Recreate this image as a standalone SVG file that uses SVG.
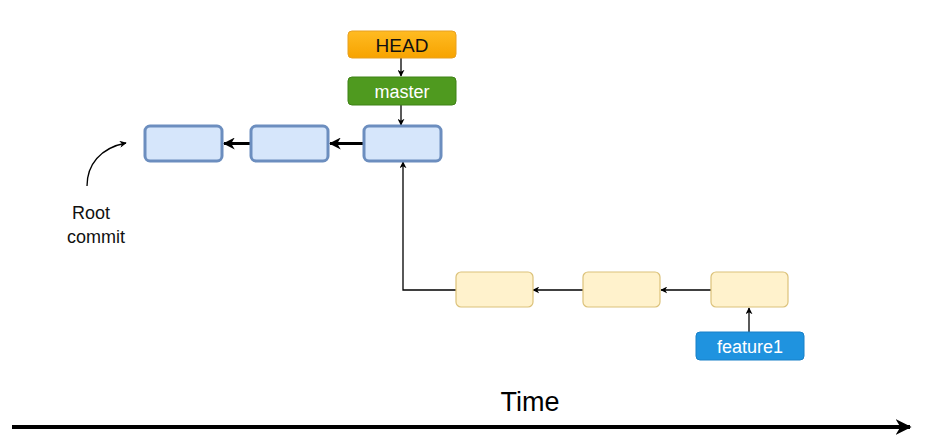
<svg xmlns="http://www.w3.org/2000/svg" width="926" height="446" viewBox="0 0 926 446">
<defs>
<linearGradient id="og" x1="0" y1="0" x2="0" y2="1"><stop offset="0" stop-color="#ffbb22"/><stop offset="1" stop-color="#f7a300"/></linearGradient>
<marker id="ah" viewBox="0 0 10 10" refX="9" refY="5" markerWidth="7" markerHeight="7" markerUnits="userSpaceOnUse" orient="auto"><path d="M0,0 L10,5 L0,10 L3,5 Z" fill="#000"/></marker>
<marker id="ahb" viewBox="0 0 10 10" refX="9" refY="5" markerWidth="12" markerHeight="12" markerUnits="userSpaceOnUse" orient="auto"><path d="M0,0 L10,5 L0,10 L3,5 Z" fill="#000"/></marker>
<marker id="aht" viewBox="0 0 10 10" refX="9" refY="5" markerWidth="16" markerHeight="16" markerUnits="userSpaceOnUse" orient="auto"><path d="M0,0 L10,5 L0,10 L3,5 Z" fill="#000"/></marker>
</defs>
<style>
.c{fill:#d6e6fb;stroke:#6c8ebf;stroke-width:3}
.y{fill:#fff2cc;stroke:#dcc27a;stroke-width:1.2}
.t{font-family:"Liberation Sans",Arial,sans-serif;text-anchor:middle}
.l{fill:none;stroke:#000;stroke-width:1.3}
</style>
<rect width="926" height="446" fill="#fff"/>
<g id="connectors">
<path class="l" d="M401,58 V76" marker-end="url(#ah)"/>
<path class="l" d="M401,105 V125" marker-end="url(#ah)"/>
<path fill="none" stroke="#000" stroke-width="3" d="M250,143.5 H224" marker-end="url(#ahb)"/>
<path fill="none" stroke="#000" stroke-width="3" d="M363,143.5 H330" marker-end="url(#ahb)"/>
<path class="l" d="M456,290 H403 V162" marker-end="url(#ah)"/>
<path class="l" d="M583,290 H533" marker-end="url(#ah)"/>
<path class="l" d="M711,290 H661" marker-end="url(#ah)"/>
<path class="l" d="M749,332 V308" marker-end="url(#ah)"/>
<path class="l" d="M87,186 C87,165 100,148 126,143" marker-end="url(#ah)"/>
<path fill="none" stroke="#000" stroke-width="4" d="M12,427 H910" marker-end="url(#aht)"/>
</g>
<g id="head"><rect x="348" y="31" width="108" height="27" rx="4" fill="url(#og)" stroke="#e8a020" stroke-width="1"/><text class="t" x="402" y="52" font-size="19" fill="#111">HEAD</text></g>
<g id="master"><rect x="348" y="77" width="108" height="28" rx="4" fill="#4f9a1f" stroke="#3f8216" stroke-width="1"/><text class="t" x="402" y="98" font-size="18" fill="#fff">master</text></g>
<g id="c1"><rect class="c" x="145" y="126" width="77" height="35" rx="5"/></g>
<g id="c2"><rect class="c" x="251" y="126" width="77" height="35" rx="5"/></g>
<g id="c3"><rect class="c" x="364" y="126" width="77" height="35" rx="5"/></g>
<g id="f1"><rect class="y" x="456" y="272" width="77" height="35" rx="5"/></g>
<g id="f2"><rect class="y" x="583" y="272" width="77" height="35" rx="5"/></g>
<g id="f3"><rect class="y" x="711" y="272" width="77" height="35" rx="5"/></g>
<g id="feature1"><rect x="696" y="332" width="108" height="28" rx="4" fill="#1f93df" stroke="#1880c8" stroke-width="1"/><text class="t" x="750" y="353" font-size="18" fill="#fff">feature1</text></g>
<g id="root"><text class="t" x="91" y="219" font-size="18" fill="#111">Root</text><text class="t" x="96" y="243" font-size="18" fill="#111">commit</text></g>
<g id="time"><text class="t" x="530" y="411" font-size="27" fill="#000">Time</text></g>
</svg>
